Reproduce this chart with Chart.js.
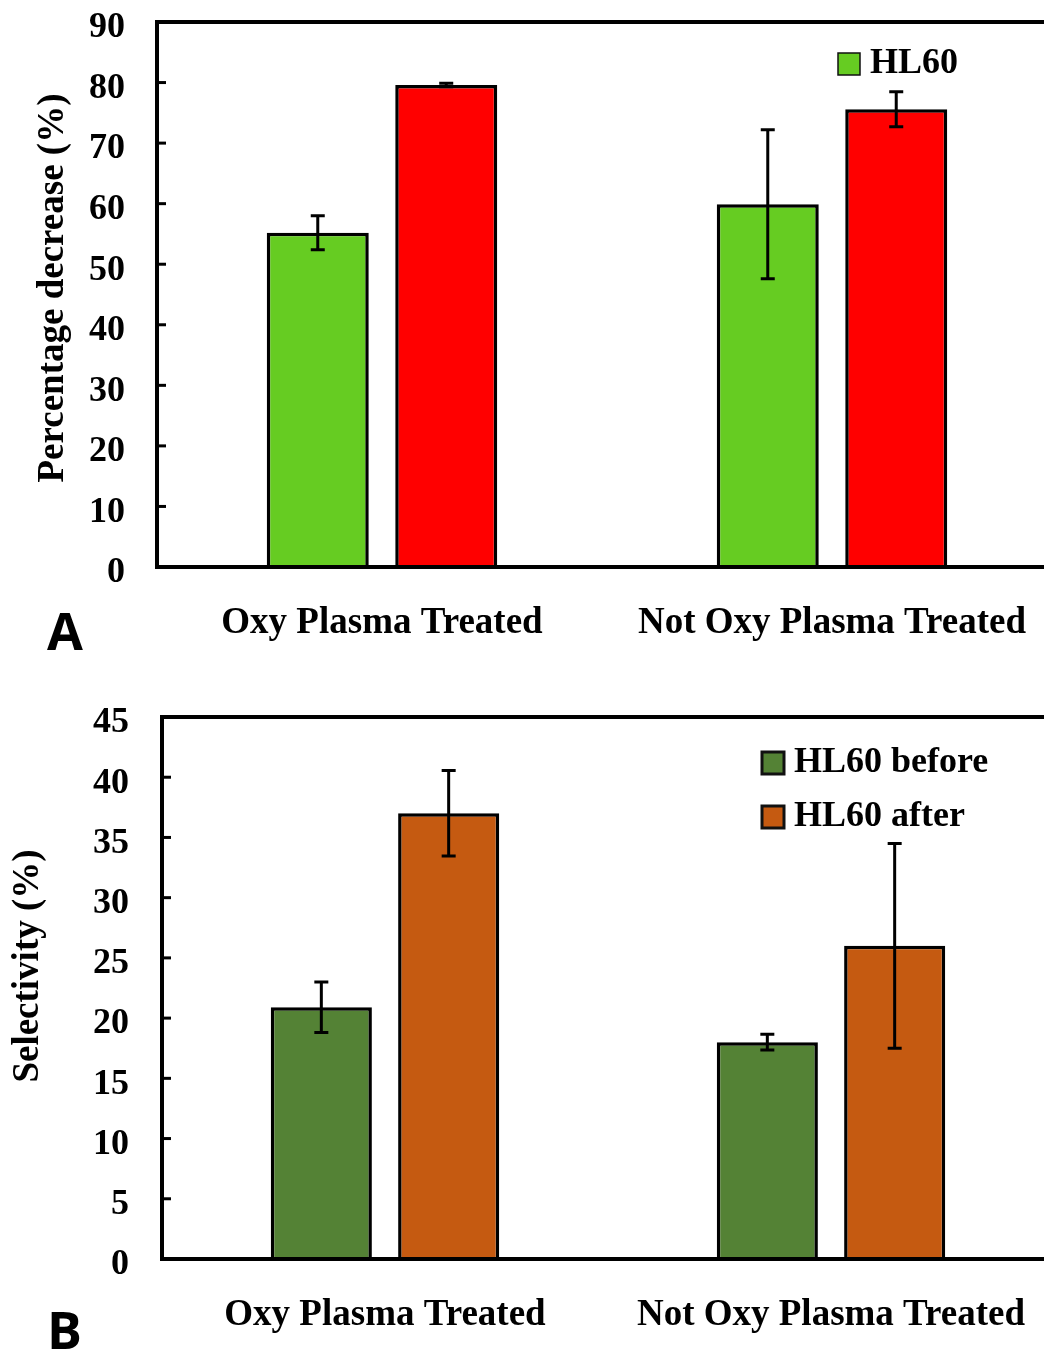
<!DOCTYPE html>
<html lang="en">
<head>
    <meta charset="UTF-8">
    <title>Percentage decrease and selectivity</title>
    <script src="https://cdn.jsdelivr.net/npm/chart.js"></script>
    <style>
        html, body { margin: 0; padding: 0; background: #fff; overflow: hidden; width: 1044px; height: 1352px; }
        .panel { position: absolute; left: 0; }
        .tag { position: absolute; font: bold 52px "Open Sans", sans-serif; line-height: 1; color: #000; }
    </style>
</head>
<body>
    <div class="panel" style="top:0"><canvas id="chartA" width="1070" height="672"></canvas></div>
    <div class="panel" style="top:680px"><canvas id="chartB" width="1070" height="672"></canvas></div>
    <div class="tag" style="left:47px; top:604px">A</div>
    <div class="tag" style="left:47px; top:1303px">B</div>

    <script>
        // categories shared by both panels
        const categories = ['Oxy Plasma Treated', 'Not Oxy Plasma Treated'];

        // panel A - percentage decrease (%)
        const hl60Values = [55.2, 59.9];
        const hl60Err = [2.8, 12.3];
        const redValues = [79.6, 75.6];
        const redErr = [0.3, 2.9];
        const yMaxA = 90, yStepA = 10;

        // panel B - selectivity (%)
        const beforeValues = [20.9, 18.0];
        const beforeErr = [2.1, 0.65];
        const afterValues = [37.0, 26.0];
        const afterErr = [3.55, 8.5];
        const yMaxB = 45, yStepB = 5;

        const serif = '"Liberation Serif", "Times New Roman", serif';

        // error bars, frame, inward ticks, y title and legend
        const framePlugin = {
            id: 'frame',
            afterDatasetsDraw(chart, args, opts) {
                const { ctx, chartArea: a, scales: { y } } = chart;
                ctx.save();
                ctx.strokeStyle = '#000';
                ctx.lineWidth = 3;
                chart.data.datasets.forEach((ds, i) => {
                    chart.getDatasetMeta(i).data.forEach((bar, j) => {
                        const hi = y.getPixelForValue(ds.data[j] + ds.errors[j]);
                        const lo = y.getPixelForValue(ds.data[j] - ds.errors[j]);
                        ctx.beginPath();
                        ctx.moveTo(bar.x, hi); ctx.lineTo(bar.x, lo);
                        ctx.moveTo(bar.x - 7, hi); ctx.lineTo(bar.x + 7, hi);
                        ctx.moveTo(bar.x - 7, lo); ctx.lineTo(bar.x + 7, lo);
                        ctx.stroke();
                    });
                });

                ctx.lineWidth = 4;
                ctx.strokeRect(a.left, a.top, a.right - a.left, a.bottom - a.top);

                ctx.lineWidth = 3;
                y.ticks.forEach(t => {
                    const py = y.getPixelForValue(t.value);
                    ctx.beginPath();
                    ctx.moveTo(a.left, py);
                    ctx.lineTo(a.left + 9, py);
                    ctx.stroke();
                });

                // legend
                ctx.font = 'bold 36px ' + serif;
                ctx.textAlign = 'left';
                ctx.textBaseline = 'middle';
                opts.legend.forEach(item => {
                    const ds = chart.data.datasets[item.dataset];
                    ctx.fillStyle = ds.backgroundColor;
                    ctx.fillRect(item.x, item.y, 22, 22);
                    ctx.lineWidth = item.border;
                    ctx.strokeStyle = '#111';
                    ctx.strokeRect(item.x, item.y, 22, 22);
                    ctx.fillStyle = '#000';
                    ctx.fillText(ds.label, item.x + 32, item.y + 11);
                });

                // y axis title
                ctx.font = 'bold 37px ' + serif;
                ctx.fillStyle = '#000';
                ctx.translate(opts.titleX, opts.titleY);
                ctx.rotate(-Math.PI / 2);
                ctx.textAlign = 'center';
                ctx.textBaseline = 'middle';
                ctx.fillText(opts.title, 0, 0);
                ctx.restore();
            }
        };

        function makeChart(id, datasets, yMax, yStep, geo, frameOpts) {
            const ctx = document.getElementById(id).getContext('2d');
            return new Chart(ctx, {
                type: 'bar',
                data: { labels: categories, datasets: datasets },
                options: {
                    responsive: false,
                    animation: false,
                    devicePixelRatio: 1,
                    layout: { padding: { top: geo.top, right: geo.right, left: 0, bottom: 0 } },
                    datasets: {
                        bar: {
                            categoryPercentage: 0.571,
                            barPercentage: 0.794,
                            borderColor: '#000',
                            borderWidth: 3.5
                        }
                    },
                    scales: {
                        x: {
                            grid: { display: false, drawTicks: false },
                            border: { display: false },
                            ticks: {
                                color: '#000',
                                padding: 34,
                                font: { family: serif, size: 37, weight: 'bold' }
                            },
                            afterFit: s => {
                                s.height = geo.xHeight;
                                s.paddingLeft = 0;
                                s.paddingRight = 0;
                            }
                        },
                        y: {
                            min: 0,
                            max: yMax,
                            grid: { display: false, drawTicks: false },
                            border: { display: false },
                            ticks: {
                                stepSize: yStep,
                                color: '#000',
                                padding: geo.tickPad,
                                labelOffset: 6,
                                font: { family: serif, size: 36, weight: 'bold' }
                            },
                            afterFit: s => {
                                s.width = geo.yWidth;
                                s.paddingTop = 0;
                                s.paddingBottom = 0;
                            }
                        }
                    },
                    plugins: {
                        legend: { display: false },
                        tooltip: { enabled: false },
                        frame: frameOpts
                    }
                },
                plugins: [framePlugin]
            });
        }

        makeChart('chartA', [
            { label: 'HL60', data: hl60Values, errors: hl60Err, backgroundColor: '#66CC22' },
            { label: 'HL60 second', data: redValues, errors: redErr, backgroundColor: '#FF0000' }
        ], yMaxA, yStepA,
        { top: 22, right: 13, xHeight: 105, yWidth: 157, tickPad: 32 },
        {
            title: 'Percentage decrease (%)', titleX: 53, titleY: 288,
            legend: [{ dataset: 0, x: 838, y: 53, border: 1.5 }]
        });

        makeChart('chartB', [
            { label: 'HL60 before', data: beforeValues, errors: beforeErr, backgroundColor: '#548235' },
            { label: 'HL60 after', data: afterValues, errors: afterErr, backgroundColor: '#C55A11' }
        ], yMaxB, yStepB,
        { top: 37, right: 16, xHeight: 93, yWidth: 162, tickPad: 33 },
        {
            title: 'Selectivity (%)', titleX: 28, titleY: 286,
            legend: [
                { dataset: 0, x: 762, y: 72, border: 3 },
                { dataset: 1, x: 762, y: 126, border: 3 }
            ]
        });
    </script>
</body>
</html>
